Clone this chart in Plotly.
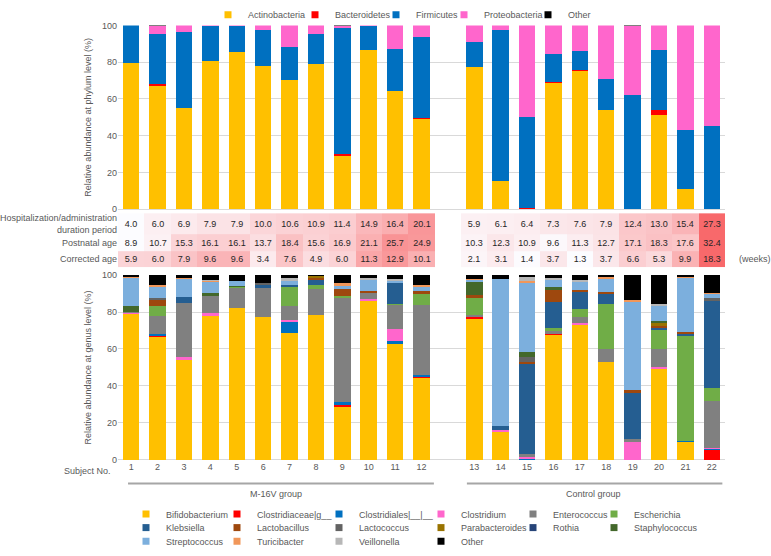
import plotly.graph_objects as go

# ---------------- data ----------------
subjects = [str(i) for i in range(1, 23)]
spacer = " "
x_order = subjects[:12] + [spacer] + subjects[12:]

phyla = ["Actinobacteria", "Bacteroidetes", "Firmicutes", "Proteobacteria", "Other"]
phylum_colors = ["#FFC000", "#FF0000", "#0070C0", "#FF66CC", "#000000"]
actinobacteria = [79.8, 67.0, 55.1, 80.4, 85.3, 77.9, 70.2, 78.8, 29.1, 86.5, 64.4, 49.1,
                  77.2, 15.4, 0.0, 68.8, 75.3, 53.9, 0.0, 51.2, 10.9, 0.3]
bacteroidetes = [0.0, 0.9, 0.0, 0.0, 0.0, 0.0, 0.0, 0.0, 0.9, 0.3, 0.0, 0.5,
                 0.3, 0.0, 0.5, 0.3, 0.3, 0.0, 0.4, 3.0, 0.3, 0.0]
firmicutes = [20.2, 27.2, 41.4, 19.2, 14.3, 19.8, 17.9, 16.6, 68.6, 12.8, 22.8, 44.3,
              13.4, 82.3, 49.9, 15.1, 10.4, 16.8, 61.9, 32.3, 32.1, 45.0]
proteobacteria = [0.0, 4.6, 3.5, 0.4, 0.4, 2.3, 11.9, 4.6, 1.1, 0.4, 12.8, 6.1,
                  9.1, 2.3, 49.6, 15.8, 14.0, 29.3, 37.4, 13.5, 56.7, 54.7]
phylum_other = [0.0, 0.3, 0.0, 0.0, 0.0, 0.0, 0.0, 0.0, 0.3, 0.0, 0.0, 0.0,
                0.0, 0.0, 0.0, 0.0, 0.0, 0.0, 0.3, 0.0, 0.0, 0.0]
phylum_values = [actinobacteria, bacteroidetes, firmicutes, proteobacteria, phylum_other]

genera = ["Bifidobacterium", "Clostridiaceae|g__", "Clostridiales|__|__", "Clostridium",
          "Enterococcus", "Escherichia", "Klebsiella", "Lactobacillus", "Lactococcus",
          "Parabacteroides", "Rothia", "Staphylococcus", "Streptococcus", "Turicibacter",
          "Veillonella", "Other"]
genus_colors = ["#FFC000", "#FF0000", "#0070C0", "#FF66CC", "#808080", "#70AD47",
                "#255E91", "#9E480E", "#636363", "#997300", "#264478", "#43682B",
                "#7CAFDD", "#F1975A", "#B7B7B7", "#000000"]
bifidobacterium = [79.0, 66.3, 54.5, 78.0, 82.0, 77.5, 68.7, 78.4, 28.8, 86.0, 62.6, 44.3,
                   76.6, 15.1, 0.0, 67.8, 73.1, 53.1, 0.0, 49.4, 10.0, 0.0]
clostridiaceae_g = [0.0, 1.2, 0.0, 0.0, 0.0, 0.0, 0.0, 0.0, 0.9, 0.0, 0.0, 0.8,
                    0.6, 0.0, 0.0, 0.5, 0.0, 0.0, 0.0, 0.0, 0.0, 5.2]
clostridiales = [0.0, 0.5, 0.0, 0.0, 0.0, 0.0, 5.8, 0.0, 1.4, 0.0, 1.7, 0.8,
                 0.0, 0.0, 0.5, 0.0, 0.0, 0.0, 0.0, 0.0, 0.4, 1.1]
clostridium = [0.5, 0.0, 1.0, 1.3, 0.0, 0.0, 1.4, 0.0, 0.0, 0.8, 6.7, 0.0,
               0.0, 0.8, 1.0, 0.0, 0.9, 0.0, 9.6, 1.0, 0.0, 0.3]
enterococcus = [0.6, 10.0, 29.5, 9.3, 11.3, 15.5, 7.1, 14.2, 56.5, 3.5, 12.8, 37.9,
                1.4, 0.0, 1.5, 1.3, 3.2, 7.0, 1.7, 9.7, 0.0, 25.0]
escherichia = [0.0, 5.0, 0.0, 0.0, 0.5, 0.0, 10.3, 2.1, 1.3, 0.0, 0.7, 6.0,
               9.1, 0.0, 0.0, 2.0, 4.7, 24.4, 0.0, 10.0, 56.7, 7.4]
klebsiella = [0.0, 0.0, 3.0, 0.0, 0.0, 2.0, 1.4, 2.7, 0.0, 0.0, 11.6, 0.0,
              0.0, 2.6, 49.2, 13.8, 9.3, 5.0, 25.1, 1.4, 1.0, 47.4]
lactobacillus = [0.0, 3.8, 0.0, 0.0, 0.0, 0.0, 0.0, 1.2, 3.7, 1.3, 0.0, 1.4,
                 1.5, 0.0, 0.8, 6.3, 0.9, 1.2, 1.6, 1.2, 1.2, 0.0]
lactococcus = [0.0, 0.7, 0.0, 0.0, 0.0, 0.8, 0.0, 0.0, 0.0, 0.0, 0.0, 0.0,
               0.0, 0.0, 2.7, 0.0, 0.0, 0.0, 0.0, 0.0, 0.0, 1.0]
parabacteroides = [0.0, 0.0, 0.0, 0.0, 0.0, 0.0, 0.0, 1.0, 0.0, 0.0, 0.0, 0.0,
                   0.0, 0.0, 0.0, 0.0, 0.0, 0.0, 0.0, 1.4, 0.0, 0.0]
rothia = [0.0] * 22
staphylococcus = [3.3, 0.0, 0.0, 1.7, 0.4, 0.0, 0.0, 0.0, 0.0, 0.0, 0.0, 0.0,
                  6.9, 0.0, 2.6, 2.1, 0.0, 0.0, 0.0, 1.2, 0.0, 0.0]
streptococcus = [15.2, 5.8, 10.0, 6.2, 2.8, 0.0, 2.3, 0.0, 1.6, 6.1, 0.9, 2.1,
                 1.3, 79.4, 37.8, 3.6, 3.9, 7.5, 47.6, 8.3, 29.3, 2.5]
turicibacter = [0.5, 1.4, 0.5, 0.5, 0.0, 0.0, 0.0, 0.0, 1.4, 0.0, 0.0, 1.1,
                0.6, 0.0, 0.7, 0.0, 0.0, 0.9, 0.7, 0.0, 0.8, 0.4]
veillonella = [0.2, 0.0, 0.0, 0.5, 0.0, 0.0, 1.6, 0.0, 0.0, 0.9, 0.7, 0.0,
               0.0, 0.0, 2.3, 0.8, 1.4, 0.0, 0.0, 0.8, 0.0, 0.0]
genus_other = [0.7, 5.3, 1.5, 2.6, 3.0, 4.2, 1.4, 0.4, 4.4, 1.4, 2.3, 5.6,
               2.0, 2.1, 0.9, 1.8, 2.6, 0.9, 13.7, 15.5, 0.6, 9.7]
genus_values = [bifidobacterium, clostridiaceae_g, clostridiales, clostridium, enterococcus,
                escherichia, klebsiella, lactobacillus, lactococcus, parabacteroides, rothia,
                staphylococcus, streptococcus, turicibacter, veillonella, genus_other]

row_labels = ["Hospitalization/administration<br>duration period", "Postnatal age", "Corrected age"]
hospitalization = [4.0, 6.0, 6.9, 7.9, 7.9, 10.0, 10.6, 10.9, 11.4, 14.9, 16.4, 20.1,
                   5.9, 6.1, 6.4, 7.3, 7.6, 7.9, 12.4, 13.0, 15.4, 27.3]
postnatal_age = [8.9, 10.7, 15.3, 16.1, 16.1, 13.7, 18.4, 15.6, 16.9, 21.1, 25.7, 24.9,
                 10.3, 12.3, 10.9, 9.6, 11.3, 12.7, 17.1, 18.3, 17.6, 32.4]
corrected_age = [5.9, 6.0, 7.9, 9.6, 9.6, 3.4, 7.6, 4.9, 6.0, 11.3, 12.9, 10.1,
                 2.1, 3.1, 1.4, 3.7, 1.3, 3.7, 6.6, 5.3, 9.9, 18.3]
table_rows = [hospitalization, postnatal_age, corrected_age]

# ---------------- style ----------------
FONT = "Liberation Sans, Arial, sans-serif"
GREY = "#595959"
GRID = "#D9D9D9"
W, H = 771, 556

def px_x(p):
    return p / W

def px_y(p):
    return 1 - p / H

x_dom = [px_x(118), px_x(725)]

# legend placement (pixel positions of legend text starts / row centres)
top_text_x = [248, 335, 416, 484, 568]
top_row_y = 5
col_text_x = [166, 257, 359, 461, 553, 634]
row_y = [521, 535, 549]

fig = go.Figure()
legend_layout = {}
legend_common = dict(orientation="h", font=dict(size=9, color=GREY, family=FONT),
                     bgcolor="rgba(0,0,0,0)", itemwidth=30, xanchor="left", yanchor="top",
                     itemclick=False, itemdoubleclick=False)

def legend_name(k):
    return "legend" if k == 1 else f"legend{k}"

k = 1
# top chart: phylum level
for i, (name, color, vals) in enumerate(zip(phyla, phylum_colors, phylum_values)):
    lg = legend_name(k)
    legend_layout[lg] = dict(**legend_common, x=px_x(top_text_x[i] - 40),
                             y=px_y(top_row_y - 13))
    k += 1
    fig.add_trace(go.Bar(x=subjects, y=vals, name=name, marker_color=color,
                         marker_line_width=0, xaxis="x", yaxis="y",
                         showlegend=False, hoverinfo="skip"))
    fig.add_trace(go.Scatter(x=[None], y=[None], mode="markers", name=name,
                             marker=dict(symbol="square", size=7, color=color),
                             xaxis="x", yaxis="y", legend=lg, hoverinfo="skip"))

# table heatmap (row-wise white -> red scale)
z, txt = [], []
for row in table_rows:
    lo, hi = min(row), max(row)
    zr = [(v - lo) / (hi - lo) for v in row]
    tr = [f"{v:.1f}" for v in row]
    z.append(zr[:12] + [None] + zr[12:])
    txt.append(tr[:12] + [""] + tr[12:])
fig.add_trace(go.Heatmap(x=x_order, y=[0, 22, 39, 56], z=z, text=txt,
                         texttemplate="%{text}", textfont=dict(size=9, color="#262626", family=FONT),
                         colorscale=[[0, "#FCFCFF"], [1, "#F8696B"]], zmin=0, zmax=1,
                         showscale=False, hoverinfo="skip", xaxis="x2", yaxis="y2"))

# bottom chart: genus level
for i, (name, color, vals) in enumerate(zip(genera, genus_colors, genus_values)):
    lg = legend_name(k)
    legend_layout[lg] = dict(**legend_common, x=px_x(col_text_x[i % 6] - 40),
                             y=px_y(row_y[i // 6] - 13))
    k += 1
    fig.add_trace(go.Bar(x=subjects, y=vals, name=name, marker_color=color,
                         marker_line_width=0, xaxis="x3", yaxis="y3",
                         showlegend=False, hoverinfo="skip"))
    fig.add_trace(go.Scatter(x=[None], y=[None], mode="markers", name=name,
                             marker=dict(symbol="square", size=7, color=color),
                             xaxis="x3", yaxis="y3", legend=lg, hoverinfo="skip"))

xcommon = dict(domain=x_dom, type="category", categoryorder="array", categoryarray=x_order,
               range=[-0.5, 22.5], showgrid=False, zeroline=False, ticks="", fixedrange=True)
ycommon = dict(range=[0, 100], dtick=20, gridcolor=GRID, gridwidth=1, zeroline=True,
               zerolinecolor=GRID, zerolinewidth=1, ticks="", showline=False,
               tickfont=dict(size=9, color=GREY, family=FONT))

fig.update_layout(
    width=W, height=H, margin=dict(l=0, r=0, t=0, b=0),
    paper_bgcolor="white", plot_bgcolor="white",
    barmode="stack", bargap=0.375,
    font=dict(family=FONT, size=9, color=GREY),
    xaxis=dict(**xcommon, anchor="y", showticklabels=False),
    yaxis=dict(**ycommon, domain=[px_y(208), px_y(18)], anchor="x",
               title=dict(text="Relative abundance at phylum level (%)",
                          font=dict(size=9, color=GREY, family=FONT), standoff=8)),
    xaxis2=dict(**xcommon, anchor="y2", showticklabels=False, matches="x"),
    yaxis2=dict(domain=[px_y(268), px_y(212)], anchor="x2", range=[56, 0],
                tickvals=[11, 30.5, 47.5], ticktext=row_labels, showgrid=False,
                zeroline=False, ticks="", tickfont=dict(size=9, color=GREY, family=FONT)),
    xaxis3=dict(**xcommon, anchor="y3", showticklabels=True, matches="x",
                tickfont=dict(size=9, color=GREY, family=FONT)),
    yaxis3=dict(**ycommon, domain=[px_y(467), px_y(276)], anchor="x3",
                title=dict(text="Relative abundance at genus level (%)",
                           font=dict(size=9, color=GREY, family=FONT), standoff=8)),
    showlegend=True,
    **legend_layout,
)

ann_font = dict(size=9, color=GREY, family=FONT)
fig.add_annotation(text="(weeks)", x=px_x(737), y=px_y(259), xref="paper", yref="paper",
                   xanchor="left", yanchor="middle", showarrow=False, font=ann_font)
fig.add_annotation(text="Subject No.", x=px_x(113), y=px_y(478), xref="paper", yref="paper",
                   xanchor="right", yanchor="middle", showarrow=False, font=ann_font)
groups = [("M-16V group", -0.12, 11.47, 5.5), ("Control group", 12.72, 22.4, 17.5)]
for label, x0, x1, xc in groups:
    fig.add_shape(type="line", xref="x3", yref="paper", x0=x0, x1=x1,
                  y0=px_y(491.5), y1=px_y(491.5), line=dict(color="#A6A6A6", width=2))
    fig.add_annotation(text=label, x=xc, y=px_y(502), xref="x3", yref="paper",
                       showarrow=False, font=ann_font, yanchor="middle")

fig.write_html("out.html", config={"displayModeBar": False},
               post_script="document.body.style.margin='0px';")
